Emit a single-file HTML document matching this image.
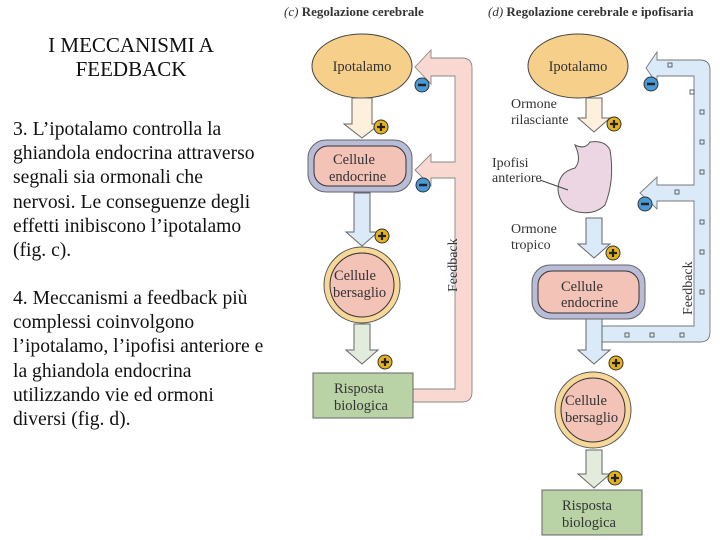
<!DOCTYPE html>
<html><head><meta charset="utf-8"><style>
body{margin:0;width:720px;height:540px;background:#fff;overflow:hidden;position:relative;font-family:"Liberation Serif",serif}
.t{position:absolute;left:13px;font-size:19.6px;line-height:24.2px;color:#111;white-space:nowrap}
</style></head><body>
<div class="t" style="top:33px;left:0;width:262px;text-align:center;font-size:21px">I MECCANISMI A<br>FEEDBACK</div>
<div class="t" style="top:118px">3. L’ipotalamo controlla la<br>ghiandola endocrina attraverso<br>segnali sia ormonali che<br>nervosi. Le conseguenze degli<br>effetti inibiscono l’ipotalamo<br>(fig. c).</div>
<div class="t" style="top:287px">4. Meccanismi a feedback più<br>complessi coinvolgono<br>l’ipotalamo, l’ipofisi anteriore e<br>la ghiandola endocrina<br>utilizzando vie ed ormoni<br>diversi (fig. d).</div>
<svg width="720" height="540" style="position:absolute;left:0;top:0" font-family="Liberation Serif,serif">
<defs>
<g id="plus"><circle r="7" fill="#e3b21c" stroke="#333" stroke-width="1"/><path d="M-4 0H4M0 -4V4" stroke="#222" stroke-width="2.2"/></g>
<g id="minus"><circle r="7" fill="#4b9ad8" stroke="#333" stroke-width="1"/><path d="M-4 0H4" stroke="#222" stroke-width="2.5"/></g>
</defs>
<text x="284" y="16" font-size="13" font-weight="bold" fill="#333"><tspan font-style="italic" font-weight="normal">(c)</tspan> Regolazione cerebrale</text>
<text x="488" y="16" font-size="13" font-weight="bold" fill="#333"><tspan font-style="italic" font-weight="normal">(d)</tspan> Regolazione cerebrale e ipofisaria</text>

<path d="M431,58 H462 Q472,58 472,68 V392 Q472,402 462,402 H413 V389 H455 V178 H431 V186 L415,170 L431,154 V162 H455 V76 H431 V84 L415,67 L431,50 Z" fill="#f8d8d0" stroke="#888" stroke-width="0.9"/>
<text transform="translate(457,292) rotate(-90)" font-size="14" fill="#333">Feedback</text>

<ellipse cx="362" cy="66" rx="50" ry="32" fill="#f6cf8a" stroke="#444"/>
<text x="362" y="71" font-size="14.5" text-anchor="middle" fill="#333">Ipotalamo</text>
<use href="#minus" x="422" y="85"/>
<path d="M352 98H372V124H380L362 138L344 124H352Z" fill="#fdf0dc" stroke="#666"/>
<use href="#plus" x="381" y="127"/>
<rect x="308" y="140" width="104" height="52" rx="18" fill="#b8bcd6" stroke="#666"/>
<rect x="314" y="146" width="92" height="40" rx="14" fill="#f4c3b8" stroke="#333"/>
<text x="333" y="164" font-size="14.5" fill="#333">Cellule</text><text x="329" y="181" font-size="14.5" fill="#333">endocrine</text>
<use href="#minus" x="423" y="185"/>
<path d="M354 193H370V232H378L362 246L346 232H354Z" fill="#dbeaf8" stroke="#666"/>
<use href="#plus" x="382" y="236"/>
<circle cx="362" cy="285" r="38" fill="#f8d898" stroke="#555"/>
<circle cx="362" cy="285" r="32" fill="#f4c3b8" stroke="#333"/>
<text x="334" y="280" font-size="14.5" fill="#333">Cellule</text><text x="333" y="297" font-size="14.5" fill="#333">bersaglio</text>
<path d="M354 324H370V350H378L362 364L346 350H354Z" fill="#e3ecdc" stroke="#666"/>
<use href="#plus" x="385" y="362"/>
<rect x="313" y="373" width="100" height="45" fill="#b9d3a6" stroke="#666"/>
<text x="334" y="393" font-size="14.5" fill="#333">Risposta</text><text x="334" y="410" font-size="14.5" fill="#333">biologica</text>

<path d="M657,60 H700 Q710,60 710,70 V332 Q710,342 700,342 H602 V326 H694 V201 H657 V209 L640,193 L657,177 V185 H694 V76 H657 V84 L646,68 L657,52 Z" fill="#dbeaf8" stroke="#777" stroke-width="0.9"/>
<text transform="translate(692,315) rotate(-90)" font-size="14" fill="#333">Feedback</text>
<g fill="none" stroke="#555" stroke-width="0.9">
<rect x="668" y="63" width="4" height="4"/><rect x="690" y="90" width="4" height="4"/><rect x="700" y="110" width="4" height="4"/><rect x="700" y="140" width="4" height="4"/><rect x="700" y="170" width="4" height="4"/><rect x="675" y="190" width="4" height="4"/><rect x="700" y="220" width="4" height="4"/><rect x="700" y="250" width="4" height="4"/><rect x="700" y="290" width="4" height="4"/><rect x="650" y="333" width="4" height="4"/><rect x="625" y="333" width="4" height="4"/><rect x="680" y="333" width="4" height="4"/>
</g>

<ellipse cx="578" cy="66" rx="50" ry="32" fill="#f6cf8a" stroke="#444"/>
<text x="578" y="71" font-size="14.5" text-anchor="middle" fill="#333">Ipotalamo</text>
<use href="#minus" x="651" y="84"/>
<text x="511" y="108" font-size="14" fill="#333">Ormone</text><text x="511" y="124" font-size="14" fill="#333">rilasciante</text>
<path d="M586 98H602V118H610L594 132L578 118H586Z" fill="#fdf0dc" stroke="#666"/>
<use href="#plus" x="614" y="124"/>
<path d="M575 145Q585 150 590 142Q605 140 610 150Q615 180 605 205Q595 215 578 212Q560 208 558 190Q558 172 575 168Q582 160 575 145Z" fill="#ecd6e4" stroke="#555"/>
<text x="492" y="167" font-size="14" fill="#333">Ipofisi</text><text x="492" y="182" font-size="14" fill="#333">anteriore</text>
<path d="M540 180L568 190" stroke="#444"/>
<use href="#minus" x="645" y="204"/>
<text x="511" y="233" font-size="14" fill="#333">Ormone</text><text x="511" y="249" font-size="14" fill="#333">tropico</text>
<path d="M586 218H602V244H610L594 258L578 244H586Z" fill="#dbeaf8" stroke="#666"/>
<use href="#plus" x="613" y="253"/>
<rect x="532" y="265" width="113" height="54" rx="18" fill="#b8bcd6" stroke="#666"/>
<rect x="538" y="271" width="101" height="42" rx="14" fill="#f4c3b8" stroke="#333"/>
<text x="561" y="291" font-size="14.5" fill="#333">Cellule</text><text x="561" y="307" font-size="14.5" fill="#333">endocrine</text>
<path d="M586 319H602V350H610L594 364L578 350H586Z" fill="#dbeaf8" stroke="#666"/>
<use href="#plus" x="616" y="363"/>
<circle cx="593" cy="410" r="38" fill="#f8d898" stroke="#555"/>
<circle cx="593" cy="410" r="32" fill="#f4c3b8" stroke="#333"/>
<text x="565" y="405" font-size="14.5" fill="#333">Cellule</text><text x="565" y="422" font-size="14.5" fill="#333">bersaglio</text>
<path d="M586 450H602V474H610L594 488L578 474H586Z" fill="#e3ecdc" stroke="#666"/>
<use href="#plus" x="615" y="478"/>
<rect x="542" y="490" width="100" height="45" fill="#b9d3a6" stroke="#666"/>
<text x="562" y="510" font-size="14.5" fill="#333">Risposta</text><text x="562" y="527" font-size="14.5" fill="#333">biologica</text>
</svg>
</body></html>
